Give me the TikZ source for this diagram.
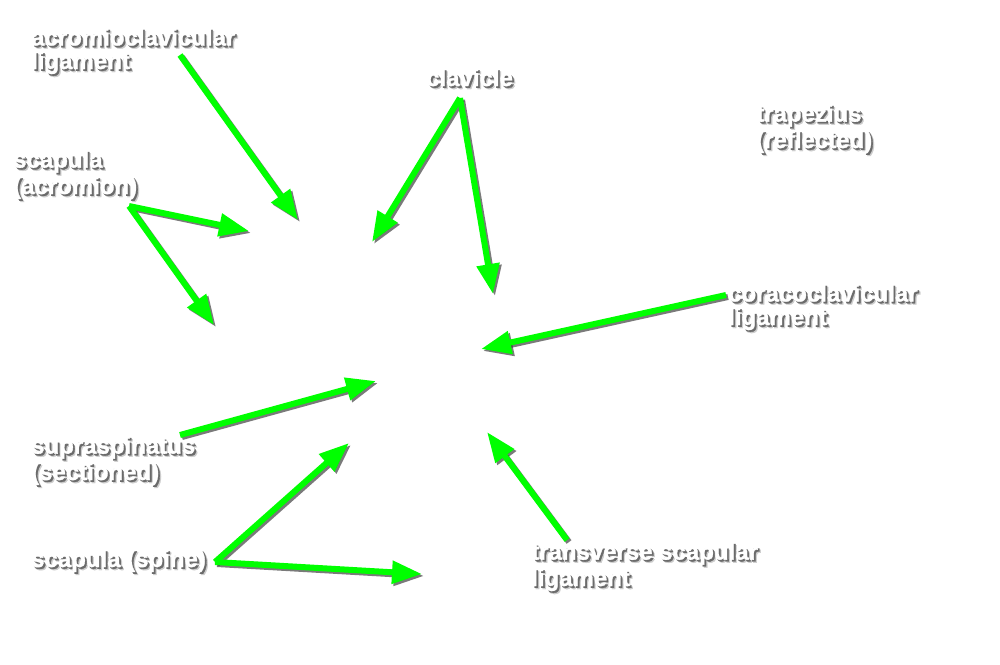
\documentclass[tikz,border=0pt]{standalone}
\usepackage{fontspec}
\setmainfont{Liberation Sans}
\newfontfamily\lblfont[FakeBold=1.3]{Liberation Sans Bold}
\usetikzlibrary{arrows.meta,calc}
\definecolor{arrgreen}{RGB}{0,255,0}
\definecolor{shadowA}{gray}{0.42}
\definecolor{shadowB}{gray}{0.80}
\newcommand{\sh}[1]{%
  \makebox[0pt][l]{\hspace{3pt}\raisebox{-3pt}{\textcolor{shadowB}{#1}}}%
  \makebox[0pt][l]{\hspace{1.8pt}\raisebox{-1.8pt}{\textcolor{shadowA}{#1}}}%
  #1}
\tikzset{
  lbl/.style={anchor=base west, inner sep=0pt, align=left, text=white,
    font=\fontsize{24}{23.5}\lblfont},
  arr/.style={draw=arrgreen, line width=6pt, line join=round,
    -{Triangle[length=30pt,width=22pt]}},
  arrshadow/.style={draw=black!80, opacity=0.65, line width=6pt, line join=round,
    -{Triangle[length=30pt,width=22pt]},
    transform canvas={xshift=2pt,yshift=-2pt}},
}
\begin{document}
\begin{tikzpicture}[x=1pt,y=-1pt]
\useasboundingbox (0,0) rectangle (1000,664);
\fill[white] (0,0) rectangle (1000,664);
% label positions (base west of last line)
\coordinate (pA) at (31,69);
\coordinate (pC) at (426,86);
\coordinate (pT) at (756,148);
\coordinate (pS) at (13,194);
\coordinate (pK) at (728,325);
\coordinate (pU) at (31,480);
\coordinate (pP) at (31,567);
\coordinate (pV) at (531,586);
% arrow tails
\coordinate (tA) at (180,55);
\coordinate (tC) at (460,98);
\coordinate (tS) at (129,206);
\coordinate (tK) at (726,295);
\coordinate (tU) at (180,435);
\coordinate (tP) at (215,562);
\coordinate (tV) at (567,540);
% arrow tips
\coordinate (hA) at (298,220);
\coordinate (hC1) at (372,242);
\coordinate (hC2) at (493,294);
\coordinate (hS1) at (249,231);
\coordinate (hS2) at (214,325);
\coordinate (hK) at (481,349);
\coordinate (hU) at (376,381);
\coordinate (hP1) at (349,443);
\coordinate (hP2) at (422,574);
\coordinate (hV) at (487,432);
\foreach \a/\b in {tA/hA,tC/hC1,tC/hC2,tS/hS1,tS/hS2,tK/hK,tU/hU,tP/hP1,tP/hP2,tV/hV}{
  \draw[arrshadow] (\a) -- (\b);
}
\foreach \a/\b in {tA/hA,tC/hC1,tC/hC2,tS/hS1,tS/hS2,tK/hK,tU/hU,tP/hP1,tP/hP2,tV/hV}{
  \draw[arr] (\a) -- (\b);
}
\node[lbl] (lA) at (pA) {\sh{acromioclavicular}\\\sh{ligament}};
\node[lbl] (lC) at (pC) {\sh{clavicle}};
\node[lbl] (lT) at (pT) {\sh{trapezius}\\\sh{(reflected)}};
\node[lbl] (lS) at (pS) {\sh{scapula}\\\sh{(acromion)}};
\node[lbl] (lK) at (pK) {\sh{coracoclavicular}\\\sh{ligament}};
\node[lbl] (lU) at (pU) {\sh{supraspinatus}\\\sh{(sectioned)}};
\node[lbl] (lP) at (pP) {\sh{scapula (spine)}};
\node[lbl] (lV) at (pV) {\sh{transverse scapular}\\\sh{ligament}};
\end{tikzpicture}
\end{document}
